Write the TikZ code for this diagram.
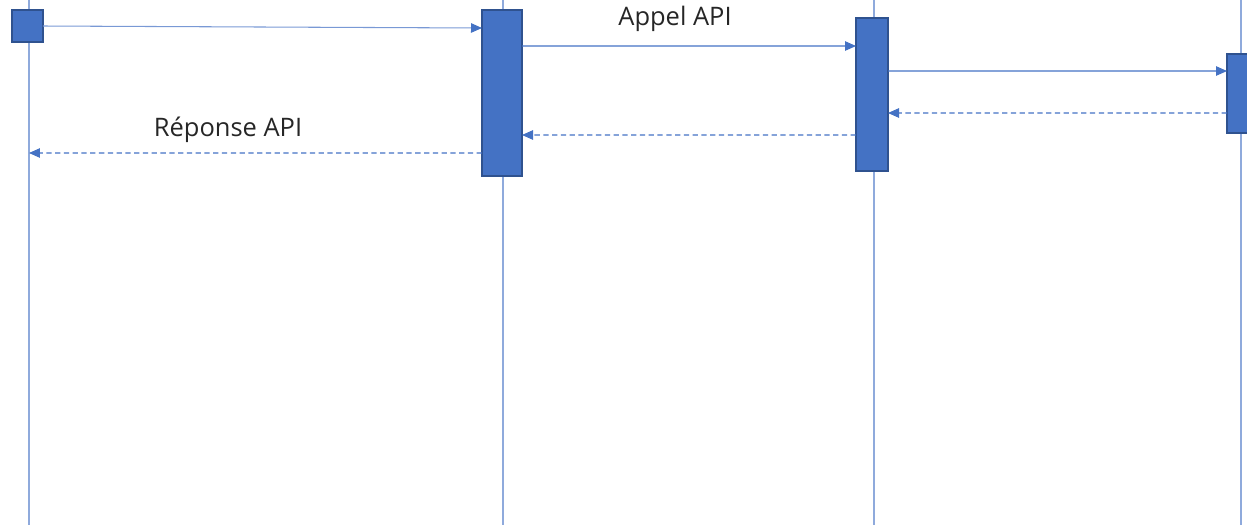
\documentclass[tikz,border=0pt]{standalone}
\usepackage{fontspec}
\setmainfont{Open Sans}
\usepackage{tikz}
\usetikzlibrary{arrows.meta}
\definecolor{ACTcolor}{HTML}{4472C4}
\definecolor{ACTborder}{HTML}{2F528F}
\definecolor{LIFEcolor}{HTML}{8FAADC}

\begin{document}
\begin{tikzpicture}[x=0.02cm, y=-0.02cm]

    \tikzset{%
        lifeline/.style={LIFEcolor, line width=0.6pt},
        act/.style={draw=ACTborder, fill=ACTcolor, line width=1.1pt, inner sep=0pt, outer sep=0pt},
        call/.style={ACTcolor, line width=0.6pt, -{Triangle[length=0.22cm, width=0.19cm, color=ACTcolor]}},
        reply/.style={call, dash pattern=on 3pt off 2pt},
        msg/.style={font=\fontsize{14.5pt}{14.5pt}\selectfont, text=black!85}
    }

    \useasboundingbox (0, 0) rectangle (1247, 525);

    % lifelines
    \foreach \x [count=\i] in {29, 503, 874, 1241} {%
            \coordinate (top\i) at (\x, 0);
            \coordinate (bot\i) at (\x, 525);
            \draw [lifeline] (top\i) -- (bot\i);
        }

    % activations
    \node [act, minimum width=0.62cm, minimum height=0.64cm] (client) at (27.5, 26) {};
    \node [act, minimum width=0.8cm, minimum height=3.32cm] (serveur) at (502, 93) {};
    \node [act, minimum width=0.64cm, minimum height=3.06cm] (api) at (872, 94.5) {};
    \node [act, minimum width=0.6cm, minimum height=1.58cm] (base) at (1242, 93.5) {};
    \coordinate (retour) at (29, 153);

    % messages
    \draw [call, draw=LIFEcolor!70!ACTcolor] (client.east) -- ([yshift=-0.36cm]serveur.north west);
    \draw [call] ([yshift=-0.72cm]serveur.north east) -- ([yshift=-0.56cm]api.north west);
    \draw [call] ([yshift=-1.06cm]api.north east) -- ([yshift=-0.34cm]base.north west);
    \draw [reply] ([yshift=0.4cm]base.south west) -- ([yshift=1.16cm]api.south east);
    \draw [reply] ([yshift=0.72cm]api.south west) -- ([yshift=0.82cm]serveur.south east);
    \draw [reply] ([yshift=0.46cm]serveur.south west) -- (retour);

    \node [msg] (appel) at (675, 19) {Appel API};
    \node [msg] (reponse) at (228, 130) {Réponse API};

\end{tikzpicture}
\end{document}
